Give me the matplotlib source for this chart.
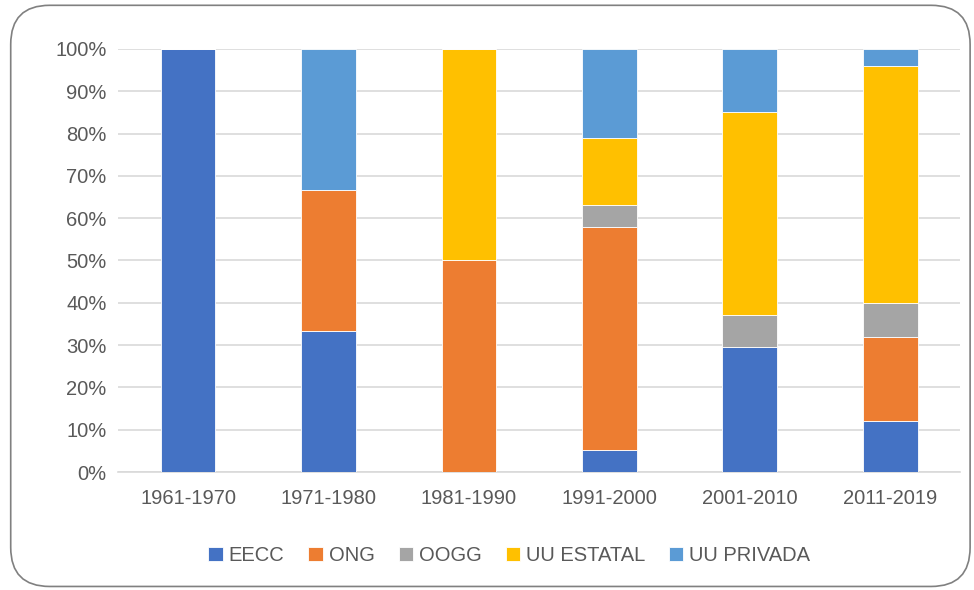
import matplotlib
matplotlib.use("Agg")
import matplotlib.pyplot as plt
import numpy as np
from matplotlib.patches import FancyBboxPatch
from matplotlib.ticker import PercentFormatter

periods = ["1961-1970", "1971-1980", "1981-1990", "1991-2000", "2001-2010", "2011-2019"]
series_names = ["EECC", "ONG", "OOGG", "UU ESTATAL", "UU PRIVADA"]
eecc = [100.0, 33.3, 0.0, 5.3, 29.6, 12.0]
ong = [0.0, 33.3, 50.0, 52.6, 0.0, 20.0]
oogg = [0.0, 0.0, 0.0, 5.3, 7.4, 8.0]
uu_estatal = [0.0, 0.0, 50.0, 15.8, 48.1, 56.0]
uu_privada = [0.0, 33.4, 0.0, 21.0, 14.9, 4.0]
colors = ["#4472C4", "#ED7D31", "#A5A5A5", "#FFC000", "#5B9BD5"]

plt.rcParams["font.family"] = ["Liberation Sans", "DejaVu Sans"]

fig = plt.figure(figsize=(9.74, 5.9), dpi=100)
ax = fig.add_axes([0.121, 0.2, 0.865, 0.717])

frame = FancyBboxPatch((0.011, 0.006), 0.985, 0.985,
                       boxstyle="round,pad=0,rounding_size=0.04",
                       transform=fig.transFigure, facecolor="none",
                       edgecolor="#808080", linewidth=1.2, mutation_aspect=974 / 590)
fig.patches.append(frame)

x = np.arange(len(periods))
bottom = np.zeros(len(periods))
for name, vals, c in zip(series_names, [eecc, ong, oogg, uu_estatal, uu_privada], colors):
    ax.bar(x, vals, 0.39, bottom=bottom, color=c, label=name,
           edgecolor="white", linewidth=0.6, zorder=3)
    bottom += np.array(vals)

ax.set_ylim(0, 100)
ax.set_xlim(-0.5, len(periods) - 0.5)
ax.set_yticks(np.arange(0, 101, 10))
ax.yaxis.set_major_formatter(PercentFormatter(decimals=0))
ax.set_xticks(x)
ax.set_xticklabels(periods)
ax.grid(axis="y", color="#D9D9D9", linewidth=1.2, zorder=0)
for s in ["top", "right", "left"]:
    ax.spines[s].set_visible(False)
ax.spines["bottom"].set_color("#D9D9D9")
ax.spines["bottom"].set_linewidth(1.2)
ax.tick_params(axis="both", length=0, labelsize=14.5, colors="#595959", pad=8)
ax.tick_params(axis="x", pad=12)

ax.legend(loc="center", bbox_to_anchor=(0.523, 0.058), bbox_transform=fig.transFigure,
          ncol=5, frameon=False, fontsize=14.5, labelcolor="#595959",
          handlelength=0.7, handleheight=0.7, handletextpad=0.3, columnspacing=1.2)

fig.savefig("out.png", dpi=100)
